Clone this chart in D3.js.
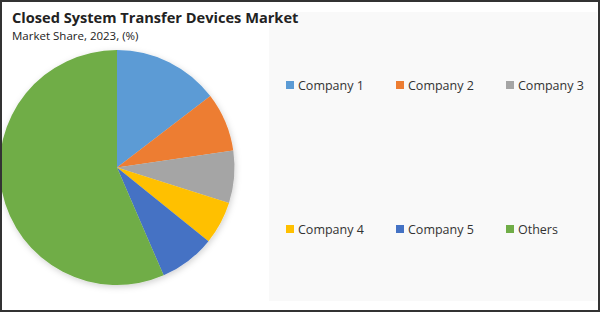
<!DOCTYPE html>
<html>
<head>
<meta charset="utf-8">
<script src="https://cdn.jsdelivr.net/npm/d3@7"></script>
<style>
  html, body { margin: 0; padding: 0; background: #fff; }
  svg { display: block; font-family: "Open Sans", "Noto Sans", sans-serif; }
</style>
</head>
<body>
<div id="chart"></div>
<script>
// data
var companies = ["Company 1", "Company 2", "Company 3", "Company 4", "Company 5", "Others"];
var shares = [14.6, 8.1, 7.2, 5.9, 7.7, 56.5];
var colors = ["#5b9bd5", "#ed7d31", "#a5a5a5", "#ffc000", "#4472c4", "#70ad47"];

var w = 600, h = 312;

var svg = d3.select("#chart")
            .append("svg")
            .attr("width", w)
            .attr("height", h);

var defs = svg.append("defs");
var shadow = defs.append("filter")
                 .attr("id", "shadow")
                 .attr("x", "-20%").attr("y", "-20%")
                 .attr("width", "140%").attr("height", "140%");
shadow.append("feDropShadow")
      .attr("dx", 1).attr("dy", 2)
      .attr("stdDeviation", 3)
      .attr("flood-color", "#000")
      .attr("flood-opacity", 0.18);

//light legend panel on the right
svg.append("rect")
   .attr("x", 269).attr("y", 12)
   .attr("width", 328).attr("height", 289)
   .attr("fill", "#f9f9f9");

svg.append("text")
   .attr("x", 12).attr("y", 23)
   .attr("font-size", 14.6)
   .attr("font-weight", "bold")
   .attr("fill", "#222")
   .text("Closed System Transfer Devices Market");

svg.append("text")
   .attr("x", 12).attr("y", 40)
   .attr("font-size", 11.5)
   .attr("fill", "#222")
   .text("Market Share, 2023, (%)");

// pie
var pie = d3.pie().sort(null).value(function(d){ return d; });
var arc = d3.arc().innerRadius(0).outerRadius(117.5);

var g = svg.append("g")
           .attr("transform", "translate(117,167.5)")
           .attr("filter", "url(#shadow)");

g.selectAll("path")
 .data(pie(shares))
 .enter()
 .append("path")
 .attr("d", arc)
 .attr("fill", function(d, i){ return colors[i]; });

// legend, 3 per row
var lx = d3.scalePoint().domain([0, 1, 2]).range([286, 506]);
var ly = d3.scalePoint().domain([0, 1]).range([85, 229]);

var items = svg.append("g")
               .selectAll(".item")
               .data(companies)
               .enter()
               .append("g")
               .attr("class", "item")
               .attr("transform", function(d, i){
                 return "translate(" + lx(i % 3) + "," + ly(Math.floor(i / 3)) + ")";
               });

items.append("rect")
     .attr("x", 0).attr("y", -4)
     .attr("width", 8).attr("height", 8)
     .attr("fill", function(d, i){ return colors[i]; });

items.append("text")
     .attr("x", 12).attr("y", 4.5)
     .attr("font-size", 12.5)
     .attr("fill", "#333")
     .text(function(d){ return d; });

//outer frame
svg.append("rect")
   .attr("x", 1).attr("y", 1)
   .attr("width", w - 2).attr("height", h - 2)
   .attr("fill", "none")
   .attr("stroke", "#333")
   .attr("stroke-width", 2);
</script>
</body>
</html>
